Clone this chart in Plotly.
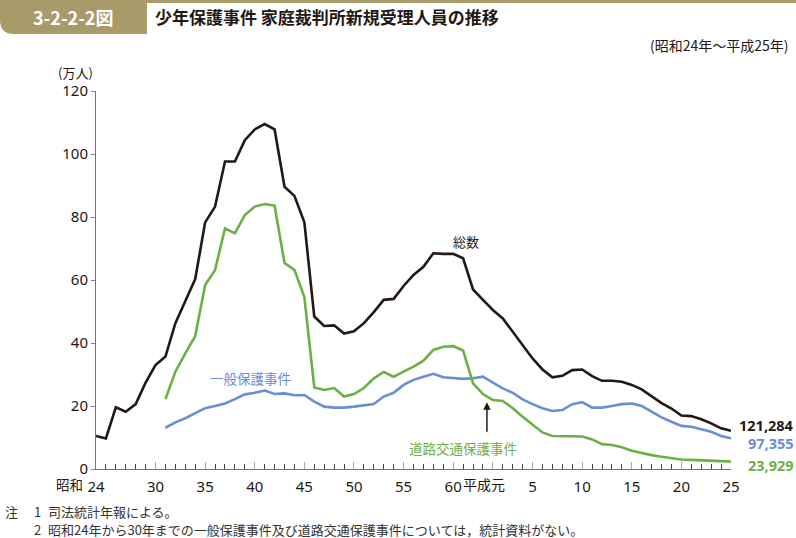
import plotly.graph_objects as go

# ---------------- data (万人) ----------------
years_total = list(range(1949, 2014))
total = [10.5, 9.7, 19.6, 18.2, 20.6, 27.4, 33.0, 35.7, 46.3, 53.3,
         60.3, 78.3, 83.3, 97.6, 97.6, 104.4, 107.8, 109.5, 107.8, 89.6,
         86.7, 78.3, 48.4, 45.4, 45.6, 43.0, 43.7, 46.3, 49.8, 53.7,
         54.0, 58.1, 61.6, 64.2, 68.5, 68.3, 68.3, 66.9, 57.0, 53.7,
         50.5, 47.8, 43.6, 39.4, 35.1, 31.6, 29.1, 29.6, 31.4, 31.6,
         29.5, 28.0, 28.0, 27.7, 26.7, 25.3, 23.0, 20.9, 19.2, 17.0,
         16.8, 15.8, 14.5, 12.9, 12.1284]

years_sub = list(range(1956, 2014))
general = [13.1, 14.8, 16.1, 17.7, 19.3, 20.0, 20.8, 22.2, 23.7, 24.2,
           24.9, 23.8, 24.0, 23.4, 23.5, 21.4, 19.8, 19.5, 19.5, 19.8,
           20.3, 20.6, 23.0, 24.2, 26.7, 28.3, 29.3, 30.2, 29.1, 28.8,
           28.6, 28.8, 29.3, 27.4, 25.6, 24.2, 22.1, 20.6, 19.3, 18.4,
           18.7, 20.6, 21.2, 19.5, 19.5, 20.0, 20.6, 20.8, 20.0, 18.2,
           16.4, 15.0, 13.7, 13.4, 12.7, 11.8, 10.5, 9.7355]
traffic = [22.2, 30.9, 36.7, 42.2, 58.4, 63.2, 76.4, 74.8, 80.6, 83.3,
           84.1, 83.6, 65.4, 63.2, 54.6, 25.9, 25.1, 25.7, 23.0, 23.8,
           25.7, 28.8, 30.8, 29.3, 30.9, 32.5, 34.4, 37.8, 38.8, 39.0,
           37.6, 27.2, 23.8, 21.9, 21.6, 19.3, 16.6, 14.0, 11.6, 10.5,
           10.5, 10.4, 10.3, 9.4, 7.9, 7.6, 6.9, 5.8, 5.0, 4.4,
           3.9, 3.4, 3.0, 2.9, 2.7, 2.6, 2.5, 2.3929]

tick_years = [1949, 1955, 1960, 1965, 1970, 1975, 1980, 1985, 1989, 1993, 1998, 2003, 2008, 2013]
tick_text = ["24", "30", "35", "40", "45", "50", "55", "60", "", "5", "10", "15", "20", "25"]
end_labels = ["121,284", "97,355", "23,929"]

BLACK = "#231815"
BLUE = "#6a8ed6"
GREEN = "#6cb045"
KHAKI = "#a99a6a"
FONT = "Noto Sans CJK JP"

W, H = 796, 538
L, R, T, B = 96, 731, 91, 469


def px(x):
    return (x - L) / (R - L)


def py(y):
    return (B - y) / (B - T)


fig = go.Figure()
fig.add_trace(go.Scatter(x=years_total, y=total, mode="lines",
                         line=dict(color=BLACK, width=2.6), hoverinfo="skip"))
fig.add_trace(go.Scatter(x=years_sub, y=general, mode="lines",
                         line=dict(color=BLUE, width=2.6), hoverinfo="skip"))
fig.add_trace(go.Scatter(x=years_sub, y=traffic, mode="lines",
                         line=dict(color=GREEN, width=2.6), hoverinfo="skip"))

fig.update_layout(
    width=W, height=H, autosize=False, showlegend=False,
    paper_bgcolor="white", plot_bgcolor="white",
    margin=dict(l=L, r=W - R, t=T, b=H - B, pad=0),
    font=dict(family=FONT, color=BLACK),
    xaxis=dict(range=[1949, 2013], showgrid=False, zeroline=False,
               showline=True, linecolor="#777", linewidth=1,
               tickmode="array", tickvals=tick_years, ticktext=tick_text,
               ticks="inside", ticklen=7, tickcolor="#aaa", tickwidth=1,
               ticklabelstandoff=4,
               tickfont=dict(family="Noto Sans", size=15, color=BLACK),
               minor=dict(tickmode="linear", tick0=1949, dtick=1, ticks="inside",
                          ticklen=5, tickcolor="#444", tickwidth=1)),
    yaxis=dict(range=[0, 120], dtick=20, showgrid=False, zeroline=False,
               showline=True, linecolor="#777", linewidth=1,
               ticks="outside", ticklen=4, tickcolor="#888",
               tickfont=dict(family="Noto Sans", size=15, color=BLACK)),
)

ann = []
# x axis extra labels
ann.append(dict(xref="paper", yref="paper", x=px(484), y=py(484), text="平成元",
                showarrow=False, font=dict(size=14, color=BLACK, family=FONT),
                xanchor="center", yanchor="middle"))
ann.append(dict(xref="paper", yref="paper", x=px(84), y=py(484), text="昭和",
                showarrow=False, font=dict(size=13.5, color=BLACK, family=FONT),
                xanchor="right", yanchor="middle", borderpad=0))
# unit
ann.append(dict(xref="paper", yref="paper", x=px(95), y=py(72), text="(万人)",
                showarrow=False, font=dict(size=13, color=BLACK, family=FONT),
                xanchor="right", yanchor="middle"))
# series labels
ann.append(dict(xref="x", yref="y", x=1986.3, y=72.1, text="総数", showarrow=False,
                font=dict(size=13, color=BLACK, family=FONT)))
ann.append(dict(xref="x", yref="y", x=1964.6, y=28.9, text="一般保護事件", showarrow=False,
                font=dict(size=13.5, color=BLUE, family=FONT)))
ann.append(dict(xref="x", yref="y", x=1986.0, y=6.7, text="道路交通保護事件", showarrow=False,
                font=dict(size=13.5, color=GREEN, family=FONT)))
ann.append(dict(xref="x", yref="y", x=1988.4, y=21.2, ax=0, ay=31,
                axref="pixel", ayref="pixel", text="", showarrow=True,
                arrowhead=2, arrowsize=1, arrowwidth=1.5, arrowcolor=BLACK))
# end labels
for txt, yv, col in zip(end_labels, [14.0, 8.4, 1.3], [BLACK, BLUE, GREEN]):
    ann.append(dict(xref="paper", yref="y", x=px(795), y=yv, text="<b>" + txt + "</b>",
                    showarrow=False, xanchor="right", yanchor="middle", borderpad=0,
                    font=dict(size=14.5, color=col, family="Noto Sans")))
# header
ann.append(dict(xref="paper", yref="paper", x=px(73), y=py(17), text="<b>3-2-2-2図</b>",
                showarrow=False, xanchor="center", yanchor="middle",
                font=dict(size=18, color="white", family=FONT)))
ann.append(dict(xref="paper", yref="paper", x=px(153), y=py(17),
                text="<b>少年保護事件 家庭裁判所新規受理人員の推移</b>",
                showarrow=False, xanchor="left", yanchor="middle",
                font=dict(size=17, color=BLACK, family=FONT)))
ann.append(dict(xref="paper", yref="paper", x=px(791), y=py(45),
                text="(昭和24年～平成25年)", showarrow=False,
                xanchor="right", yanchor="middle",
                font=dict(size=14, color=BLACK, family=FONT)))
# notes
note_font = dict(size=13, color="#333", family=FONT)
notes = [(4, 511, "注"), (33, 511, "1"), (47, 511, "司法統計年報による。"),
         (33, 529, "2"),
         (47, 529, "昭和24年から30年までの一般保護事件及び道路交通保護事件については，統計資料がない。")]
for nx, ny, nt in notes:
    ann.append(dict(xref="paper", yref="paper", x=px(nx), y=py(ny), text=nt,
                    showarrow=False, xanchor="left", yanchor="middle",
                    borderpad=0, font=note_font))
fig.update_layout(annotations=ann)

# header shapes
box_path = "M {x0},{y0} L {x1},{y0} L {x1},{y1} L {x2},{y1} Q {x3},{y1} {x3},{y2} Z".format(
    x0=px(0), y0=py(0), x1=px(147), y1=py(34), x2=px(14), x3=px(0), y2=py(20))
fig.add_shape(type="path", path=box_path, xref="paper", yref="paper",
              fillcolor=KHAKI, line=dict(width=0), layer="below")
fig.add_shape(type="rect", xref="paper", yref="paper",
              x0=px(0), x1=px(796), y0=py(0), y1=py(3),
              fillcolor=KHAKI, line=dict(width=0), layer="below")

fig.write_html(
    "out.html",
    config={"displayModeBar": False},
    post_script="document.body.style.margin='0';document.body.style.padding='0';"
                "document.body.style.overflow='hidden';",
)
